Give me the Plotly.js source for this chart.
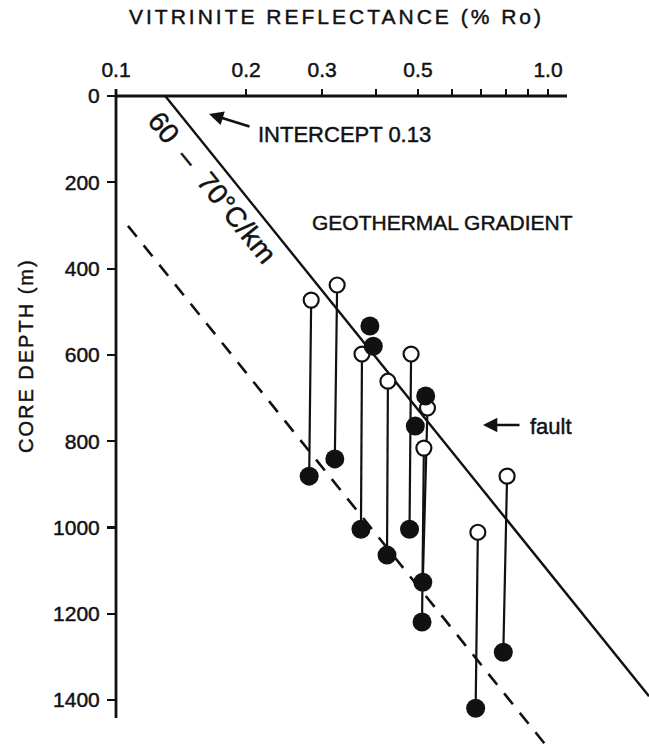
<!DOCTYPE html>
<html>
<head>
<meta charset="utf-8">
<script src="https://cdn.plot.ly/plotly-3.0.1.min.js"></script>
<style>
html,body{margin:0;padding:0;background:#fff;}
#chart{width:649px;height:748px;}
#chart text{stroke:#111;stroke-width:0.45px;}
</style>
</head>
<body>
<div id="chart"></div>
<script>
// ---- data ----
// paired samples: open circle (upper) linked to filled circle (lower)
const openRo      = [0.283, 0.325, 0.371, 0.426, 0.482, 0.526, 0.516, 0.688, 0.804];
const openDepth   = [473,   438,   598,   661,   598,   723,   816,   1011,  881];
const filledRo    = [0.280, 0.321, 0.369, 0.424, 0.478, 0.513, 0.511, 0.680, 0.788];
const filledDepth = [881,   841,   1004,  1064,  1004,  1127,  1219,  1419,  1289];
// unpaired filled samples near the gradient line
const singleRo    = [0.387, 0.394, 0.521, 0.493];
const singleDepth = [533,   580,   695,   765];
// geothermal gradient line (intercept 0.13) and offset dashed line
const gradRo      = [0.13, 1.713];
const gradDepth   = [0, 1391];
const dashRo      = [0.1066, 0.984];
const dashDepth   = [301, 1502];
// axis ticks
const xTickVals = [0.1, 0.2, 0.3, 0.4, 0.5, 0.6, 0.7, 0.8, 0.9, 1.0];
const xTickText = ['0.1', '0.2', '0.3', '', '0.5', '', '', '', '', '1.0'];
const yTickVals = [0, 200, 400, 600, 800, 1000, 1200, 1400];

// ---- layout helpers ----
const W = 649, H = 748, L = 116, T = 96;
const px2x = p => (p - L) / (W - L);
const py2y = p => (H - p) / (H - T);
const FONT = 'Liberation Sans, Arial, sans-serif';
const INK = '#111';
const X_TITLE = 'VITRINITE REFLECTANCE (% Ro)';
const Y_TITLE = 'CORE DEPTH (m)';

const stemX = [], stemY = [];
for (let i = 0; i < openRo.length; i++) {
  stemX.push(openRo[i], filledRo[i], null);
  stemY.push(openDepth[i], filledDepth[i], null);
}

const traces = [
  {x: gradRo, y: gradDepth, mode: 'lines', line: {color: INK, width: 2.4}, hoverinfo: 'skip'},
  {x: dashRo, y: dashDepth, mode: 'lines', line: {color: INK, width: 2.6, dash: '14px,11px'}, hoverinfo: 'skip'},
  {x: stemX, y: stemY, mode: 'lines', line: {color: INK, width: 2.2}, hoverinfo: 'skip', connectgaps: false},
  {x: openRo, y: openDepth, mode: 'markers', cliponaxis: false,
   marker: {symbol: 'circle', size: 15, color: '#fff', line: {color: INK, width: 2.2}}},
  {x: filledRo, y: filledDepth, mode: 'markers', cliponaxis: false,
   marker: {symbol: 'circle', size: 19, color: INK, line: {width: 0}}},
  {x: singleRo, y: singleDepth, mode: 'markers', cliponaxis: false,
   marker: {symbol: 'circle', size: 19, color: INK, line: {width: 0}}}
];

const layout = {
  width: W, height: H, autosize: false,
  margin: {l: L, r: 0, t: T, b: 0, pad: 0},
  paper_bgcolor: '#fff', plot_bgcolor: '#fff',
  showlegend: false,
  font: {family: FONT, color: INK, size: 21},
  xaxis: {
    type: 'log', side: 'top', range: [-1, Math.log10(1.713)],
    tickvals: xTickVals, ticktext: xTickText,
    ticks: 'outside', ticklen: 6, tickwidth: 2.2, tickcolor: INK, ticklabelstandoff: 4,
    showgrid: false, zeroline: false, showline: false,
    tickfont: {family: FONT, size: 21, color: INK}
  },
  yaxis: {
    range: [1511, 0], tickvals: yTickVals,
    ticks: 'outside', ticklen: 8, tickwidth: 2.2, tickcolor: INK, ticklabelstandoff: 3,
    showgrid: false, zeroline: false, showline: false,
    tickfont: {family: FONT, size: 21, color: INK}
  },
  shapes: [
    {type: 'line', xref: 'paper', yref: 'paper', x0: px2x(115), x1: px2x(567), y0: 1, y1: 1, line: {color: INK, width: 2.8}},
    {type: 'line', xref: 'paper', yref: 'paper', x0: 0, x1: 0, y0: py2y(89), y1: py2y(718), line: {color: INK, width: 2.8}}
  ],
  annotations: [
    {xref: 'paper', yref: 'paper', x: px2x(336), y: py2y(17), text: X_TITLE, showarrow: false,
     font: {family: FONT, size: 21, color: INK}, xanchor: 'center', yanchor: 'middle'},
    {xref: 'paper', yref: 'paper', x: px2x(26), y: py2y(356), text: Y_TITLE, showarrow: false, textangle: -90,
     font: {family: FONT, size: 20, color: INK}, xanchor: 'center', yanchor: 'middle'},
    {xref: 'paper', yref: 'paper', x: px2x(256), y: py2y(134), text: 'INTERCEPT 0.13', showarrow: false,
     font: {family: FONT, size: 22, color: INK}, xanchor: 'left', yanchor: 'middle'},
    {xref: 'paper', yref: 'paper', x: px2x(310), y: py2y(222), text: 'GEOTHERMAL GRADIENT', showarrow: false,
     font: {family: FONT, size: 21, color: INK}, xanchor: 'left', yanchor: 'middle'},
    {xref: 'paper', yref: 'paper', x: px2x(528), y: py2y(426), text: 'fault', showarrow: false,
     font: {family: FONT, size: 22, color: INK}, xanchor: 'left', yanchor: 'middle'},
    {xref: 'paper', yref: 'paper', x: px2x(212), y: py2y(188), text: '60  –  70°C/km', showarrow: false, textangle: 51,
     font: {family: FONT, size: 28, color: INK}, xanchor: 'center', yanchor: 'middle'},
    // arrows
    {xref: 'paper', yref: 'paper', x: px2x(209), y: py2y(114), ax: 42, ay: 13, text: '', showarrow: true,
     arrowhead: 2, arrowsize: 1.1, arrowwidth: 2.6, arrowcolor: INK},
    {xref: 'paper', yref: 'paper', x: px2x(483), y: py2y(425), ax: 38, ay: 0, text: '', showarrow: true,
     arrowhead: 2, arrowsize: 1.1, arrowwidth: 2.6, arrowcolor: INK}
  ]
};

Plotly.newPlot('chart', traces, layout, {staticPlot: true, displayModeBar: false}).then(gd => {
  // the reference's axis titles are set in a wide, spaced lettering
  gd.querySelectorAll('.annotation-text').forEach(t => {
    if (t.textContent === X_TITLE) t.style.letterSpacing = '3px';
    if (t.textContent === Y_TITLE) t.style.letterSpacing = '2px';
  });
});
</script>
</body>
</html>
